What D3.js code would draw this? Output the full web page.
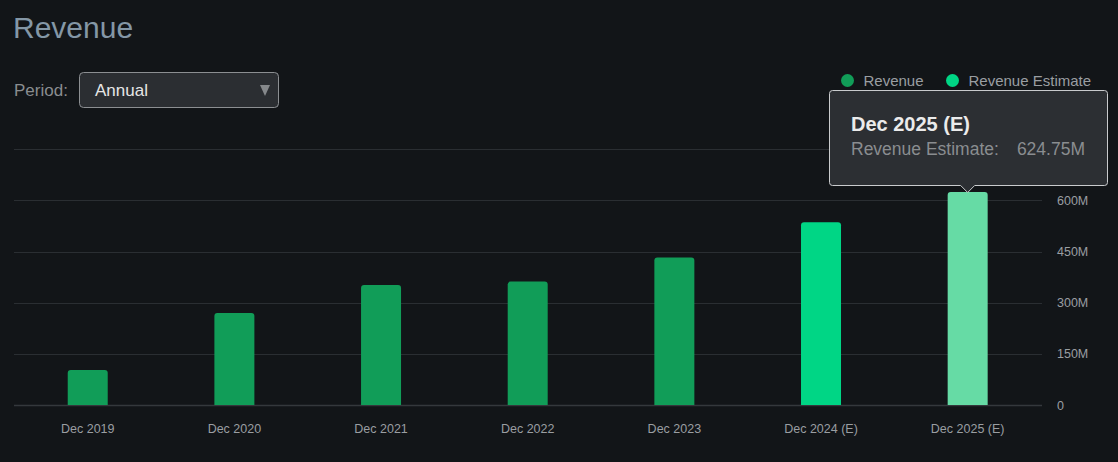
<!DOCTYPE html>
<html>
<head>
<meta charset="utf-8">
<script src="https://cdn.jsdelivr.net/npm/d3@7"></script>
<style>
  html, body { margin: 0; padding: 0; background: #121518; }
  svg { display: block; font-family: "Liberation Sans", Arial, sans-serif; }
</style>
</head>
<body>
<svg id="chart" width="1118" height="462"></svg>
<script>
const categories = ["Dec 2019", "Dec 2020", "Dec 2021", "Dec 2022", "Dec 2023", "Dec 2024 (E)", "Dec 2025 (E)"];
const revenueValues = [103, 270, 352, 362, 433, null, null];
const estimateValues = [null, null, null, null, null, 536, 624.75];
const yTicks = [0, 150, 300, 450, 600, 750];
const yTickLabels = ["0", "150M", "300M", "450M", "600M", ""];
const legendLabels = ["Revenue", "Revenue Estimate"];
const highlightIndex = 6;

const svg = d3.select("#chart");
const W = 1118, H = 462;
svg.append("rect").attr("width", W).attr("height", H).attr("fill", "#121518");

const colors = { rev: "#119d58", est: "#00d685", hover: "#66dba5" };

const x = d3.scaleBand().domain(categories).range([14.4, 1041]).padding(0);
const y = d3.scaleLinear().domain([0, 750]).range([405, 149.3]);
const barW = 40;

// gridlines
svg.append("g").selectAll("line").data(yTicks).join("line")
  .attr("x1", 14).attr("x2", 1042)
  .attr("y1", d => Math.round(y(d)) + 0.5).attr("y2", d => Math.round(y(d)) + 0.5)
  .attr("stroke", d => d === 0 ? "#34383c" : "#2a2e32").attr("stroke-width", d => d === 0 ? 1.5 : 1);

// y axis labels
const yAxis = d3.axisRight(y).tickValues(yTicks.slice(0, 5)).tickSize(0)
  .tickFormat((d, i) => yTickLabels[i]);
const yg = svg.append("g").attr("transform", "translate(1054,0)").call(yAxis);
yg.select(".domain").remove();
yg.selectAll("text").attr("fill", "#9a9ea2").attr("font-size", 12.5).attr("font-family", "Liberation Sans, Arial, sans-serif");

// x axis labels
const xAxis = d3.axisBottom(x).tickSize(0);
const xg = svg.append("g").attr("transform", "translate(0,421)").call(xAxis);
xg.select(".domain").remove();
xg.selectAll("text").attr("fill", "#9a9ea2").attr("font-size", 12.5).attr("font-family", "Liberation Sans, Arial, sans-serif");

// bars
function barPath(cx, top, bottom, w, r) {
  const l = cx - w / 2, rt = cx + w / 2;
  return `M${l},${bottom}V${top + r}Q${l},${top} ${l + r},${top}H${rt - r}Q${rt},${top} ${rt},${top + r}V${bottom}Z`;
}
const barData = categories.map((c, i) => ({
  c, i,
  v: revenueValues[i] != null ? revenueValues[i] : estimateValues[i],
  est: revenueValues[i] == null
}));
svg.append("g").selectAll("path").data(barData).join("path")
  .attr("d", d => barPath(x(d.c) + x.bandwidth() / 2, y(d.v), y(0), barW, 3))
  .attr("fill", d => d.i === highlightIndex ? colors.hover : (d.est ? colors.est : colors.rev));

// title
svg.append("text").attr("x", 13).attr("y", 38).text("Revenue")
  .attr("fill", "#8497a6").attr("font-size", 30);

// period selector
svg.append("text").attr("x", 14).attr("y", 96).text("Period:")
  .attr("fill", "#8a8d90").attr("font-size", 17);
svg.append("rect").attr("x", 79.5).attr("y", 72.5).attr("width", 199).attr("height", 35).attr("rx", 4)
  .attr("fill", "#2b2e32").attr("stroke", "#8c8f92").attr("stroke-width", 1);
svg.append("text").attr("x", 95).attr("y", 96).text("Annual")
  .attr("fill", "#e6e6e6").attr("font-size", 17);
svg.append("path").attr("d", "M260,85L270,85L265,96Z").attr("fill", "#85888b");

// legend
const legendX = [847.5, 952.5];
const legendColors = [colors.rev, colors.est];
legendLabels.forEach((t, i) => {
  svg.append("circle").attr("cx", legendX[i]).attr("cy", 80.5).attr("r", 6.5).attr("fill", legendColors[i]);
  svg.append("text").attr("x", legendX[i] + 16).attr("y", 86).text(t)
    .attr("fill", "#9a9ea2").attr("font-size", 15);
});

// tooltip
const hd = barData[highlightIndex];
const tipCx = x(hd.c) + x.bandwidth() / 2;
const tx0 = 829.5, tx1 = 1107.5, ty0 = 90.5, ty1 = 185.5;
const tipPath = `M${tx0 + 3},${ty0}H${tx1 - 3}Q${tx1},${ty0} ${tx1},${ty0 + 3}V${ty1 - 3}Q${tx1},${ty1} ${tx1 - 3},${ty1}` +
  `H${tipCx + 7}L${tipCx},${ty1 + 7}L${tipCx - 7},${ty1}H${tx0 + 3}Q${tx0},${ty1} ${tx0},${ty1 - 3}V${ty0 + 3}Q${tx0},${ty0} ${tx0 + 3},${ty0}Z`;
svg.append("path").attr("d", tipPath).attr("fill", "#2c2f33").attr("stroke", "#c9cbcd").attr("stroke-width", 1);
svg.append("text").attr("x", 851).attr("y", 131).text(hd.c)
  .attr("fill", "#ebebeb").attr("font-size", 20).attr("font-weight", "bold");
svg.append("text").attr("x", 851).attr("y", 155).text(legendLabels[1] + ":")
  .attr("fill", "#8a8d90").attr("font-size", 17.5);
svg.append("text").attr("x", 1085).attr("y", 155).attr("text-anchor", "end")
  .text(d3.format(".2f")(hd.v) + "M")
  .attr("fill", "#8a8d90").attr("font-size", 17.5);
</script>
</body>
</html>
